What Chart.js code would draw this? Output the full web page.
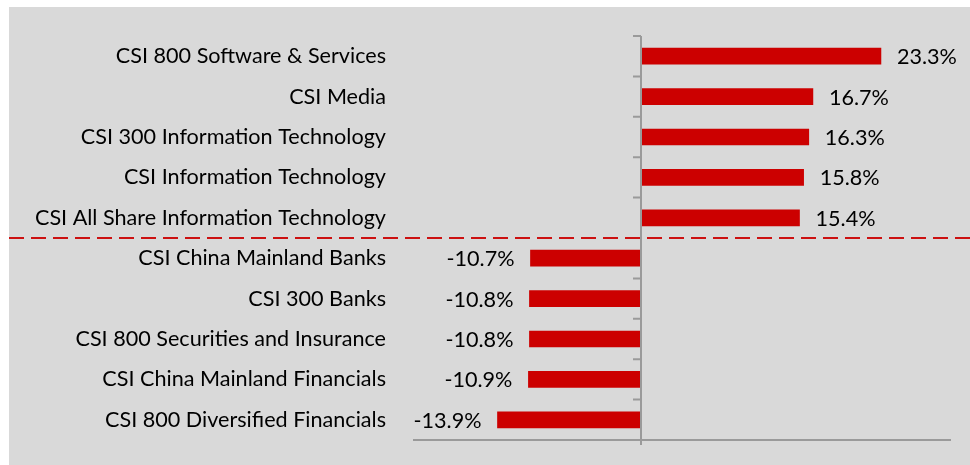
<!DOCTYPE html>
<html>
<head>
<meta charset="utf-8">
<script src="https://cdn.jsdelivr.net/npm/chart.js@4/dist/chart.umd.min.js"></script>
<style>
html,body{margin:0;padding:0;background:#ffffff;}
#wrap{width:970px;height:465px;position:relative;}
</style>
</head>
<body>
<div id="wrap"><canvas id="c" width="970" height="465"></canvas></div>
<script>
const categories = [
  'CSI 800 Software & Services',
  'CSI Media',
  'CSI 300 Information Technology',
  'CSI Information Technology',
  'CSI All Share Information Technology',
  'CSI China Mainland Banks',
  'CSI 300 Banks',
  'CSI 800 Securities and Insurance',
  'CSI China Mainland Financials',
  'CSI 800 Diversified Financials'
];
const returnsPct = [23.3, 16.7, 16.3, 15.8, 15.4, -10.7, -10.8, -10.8, -10.9, -13.9];
const dividerAfterIndex = 4;

const FONT = 'Lato, "Open Sans", sans-serif';
const FONT_SIZE = 21.6;

const bgPlugin = {
  id: 'bg',
  beforeDraw(chart) {
    const ctx = chart.ctx;
    ctx.save();
    ctx.fillStyle = '#ffffff';
    ctx.fillRect(0, 0, chart.width, chart.height);
    ctx.fillStyle = '#d9d9d9';
    ctx.fillRect(9, 7, chart.width - 9, chart.height - 7);
    ctx.restore();
  }
};

const axisPlugin = {
  id: 'axisDeco',
  afterDatasetsDraw(chart) {
    const ctx = chart.ctx;
    const xs = chart.scales.x, ys = chart.scales.y;
    const x0 = Math.round(xs.getPixelForValue(0));
    const top = chart.chartArea.top, bottom = chart.chartArea.bottom;
    ctx.save();
    ctx.strokeStyle = '#9a9a9a';
    ctx.lineWidth = 2;
    ctx.beginPath();
    ctx.moveTo(x0, top);
    ctx.lineTo(x0, bottom + 5);
    ctx.stroke();
    // ticks at category boundaries
    const n = categories.length;
    const step = (bottom - top) / n;
    ctx.beginPath();
    for (let i = 0; i <= n; i++) {
      const y = top + i * step;
      ctx.moveTo(x0 - 8, y);
      ctx.lineTo(x0, y);
    }
    ctx.stroke();
    // dashed divider
    const yA = ys.getPixelForValue(dividerAfterIndex);
    const yB = ys.getPixelForValue(dividerAfterIndex + 1);
    const yd = (yA + yB) / 2;
    ctx.strokeStyle = '#cc1111';
    ctx.lineWidth = 2;
    ctx.setLineDash([15, 7]);
    ctx.beginPath();
    ctx.moveTo(9, yd);
    ctx.lineTo(chart.width, yd);
    ctx.stroke();
    ctx.setLineDash([]);
    // value labels
    ctx.fillStyle = '#000000';
    ctx.font = FONT_SIZE + 'px ' + FONT;
    ctx.textBaseline = 'middle';
    returnsPct.forEach((v, i) => {
      const y = ys.getPixelForValue(i);
      const xv = xs.getPixelForValue(v);
      const txt = v.toFixed(1) + '%';
      if (v >= 0) {
        ctx.textAlign = 'left';
        ctx.fillText(txt, xv + 16, y + 1);
      } else {
        ctx.textAlign = 'right';
        ctx.fillText(txt, xv - 16, y + 1);
      }
    });
    ctx.restore();
  }
};

new Chart(document.getElementById('c'), {
  type: 'bar',
  data: {
    labels: categories,
    datasets: [{
      data: returnsPct,
      backgroundColor: '#cc0000',
      borderWidth: 0,
      barThickness: 16
    }]
  },
  options: {
    indexAxis: 'y',
    responsive: false,
    animation: false,
    devicePixelRatio: 1,
    layout: { padding: { left: 9, top: 36, right: 20, bottom: 0 } },
    plugins: { legend: { display: false }, tooltip: { enabled: false } },
    scales: {
      x: {
        min: -22, max: 30,
        ticks: { display: false },
        grid: { display: false, drawTicks: false },
        border: { display: true, color: '#9a9a9a', width: 2 },
        afterFit(s) { s.height = 25; s.paddingLeft = 0; s.paddingRight = 0; }
      },
      y: {
        grid: { display: false, drawTicks: false },
        border: { display: false },
        ticks: {
          color: '#000000',
          padding: 28,
          font: { family: FONT, size: FONT_SIZE }
        },
        afterFit(s) { s.width = 414 - 9; s.paddingTop = 0; s.paddingBottom = 0; }
      }
    }
  },
  plugins: [bgPlugin, axisPlugin]
});
</script>
</body>
</html>
